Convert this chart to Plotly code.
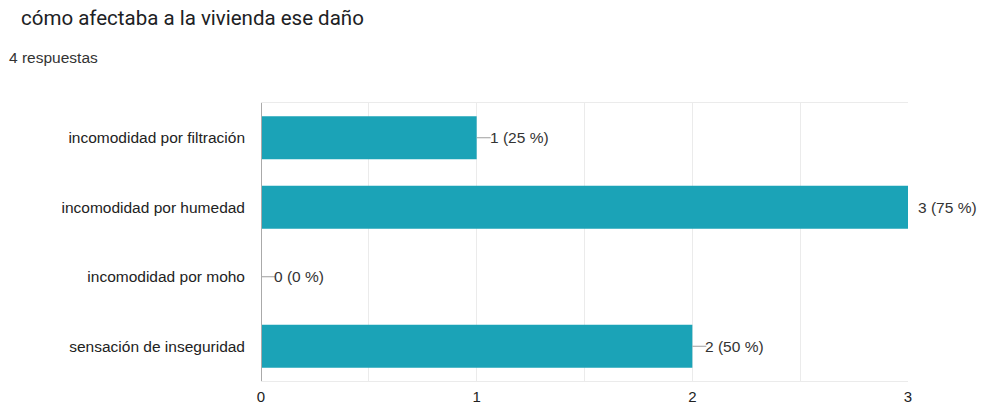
import plotly.graph_objects as go

categories = ["incomodidad por filtración", "incomodidad por humedad",
              "incomodidad por moho", "sensación de inseguridad"]
counts = [1, 3, 0, 2]
percents = [25, 75, 0, 50]
x_ticks = [0, 1, 2, 3]
title = "cómo afectaba a la vivienda ese daño"
subtitle = "4 respuestas"

BAR = "#1ba3b7"
FONT = "Liberation Sans, Arial, sans-serif"
TFONT = "Roboto, Arial, sans-serif"

fig = go.Figure()
fig.add_trace(go.Bar(
    x=counts, y=categories, orientation="h",
    marker=dict(color=BAR, line=dict(width=0)),
    width=0.62, hoverinfo="skip",
))

xmax = max(x_ticks)
for c, n, p in zip(categories, counts, percents):
    label = f"{n} ({p} %)"
    if n >= xmax:
        fig.add_annotation(x=n, y=c, xref="x", yref="y", text=label, showarrow=False,
                           xanchor="left", xshift=8, font=dict(family=FONT, size=15.5, color="#333"))
    else:
        fig.add_shape(type="line", xref="x", yref="y", xsizemode="pixel", xanchor=n,
                      x0=0, x1=14, y0=c, y1=c, line=dict(color="#9e9e9e", width=1))
        fig.add_annotation(x=n, y=c, xref="x", yref="y", text=label, showarrow=False,
                           xanchor="left", xshift=11, font=dict(family=FONT, size=15.5, color="#333"))

# vertical axis line at zero
fig.add_shape(type="line", xref="x", yref="paper", x0=0, x1=0, y0=0, y1=1,
              line=dict(color="#aaaaaa", width=2), layer="above")

fig.add_annotation(text=title, xref="paper", yref="paper", x=0, y=1, xanchor="left", yanchor="middle",
                   xshift=-242, yshift=85, showarrow=False, font=dict(family=TFONT, size=20.5, color="#202124"))
fig.add_annotation(text=subtitle, xref="paper", yref="paper", x=0, y=1, xanchor="left", yanchor="middle",
                   xshift=-254, yshift=46, showarrow=False, font=dict(family=FONT, size=15.5, color="#333"))

fig.update_layout(
    width=990, height=409,
    margin=dict(l=261, r=82, t=103, b=28),
    plot_bgcolor="white", paper_bgcolor="white",
    showlegend=False, bargap=0.38,
    font=dict(family=FONT, size=15.5, color="#222"),
)
fig.update_xaxes(range=[0, xmax], tickvals=x_ticks, ticktext=[str(t) for t in x_ticks],
                 showgrid=True, gridcolor="#ebebeb", gridwidth=1,
                 minor=dict(dtick=0.5, showgrid=True, gridcolor="#ebebeb", gridwidth=1),
                 zeroline=False, showline=True, linecolor="#ebebeb", mirror=True,
                 ticks="", ticklen=0, ticklabelstandoff=2, automargin=False,
                 tickfont=dict(size=15, color="#222"), fixedrange=True)
fig.update_yaxes(autorange="reversed", showgrid=False, zeroline=False, showline=False,
                 ticks="", ticklabelstandoff=15, automargin=False,
                 tickfont=dict(size=15.5, color="#222"), fixedrange=True)

fig.write_html("out.html")
